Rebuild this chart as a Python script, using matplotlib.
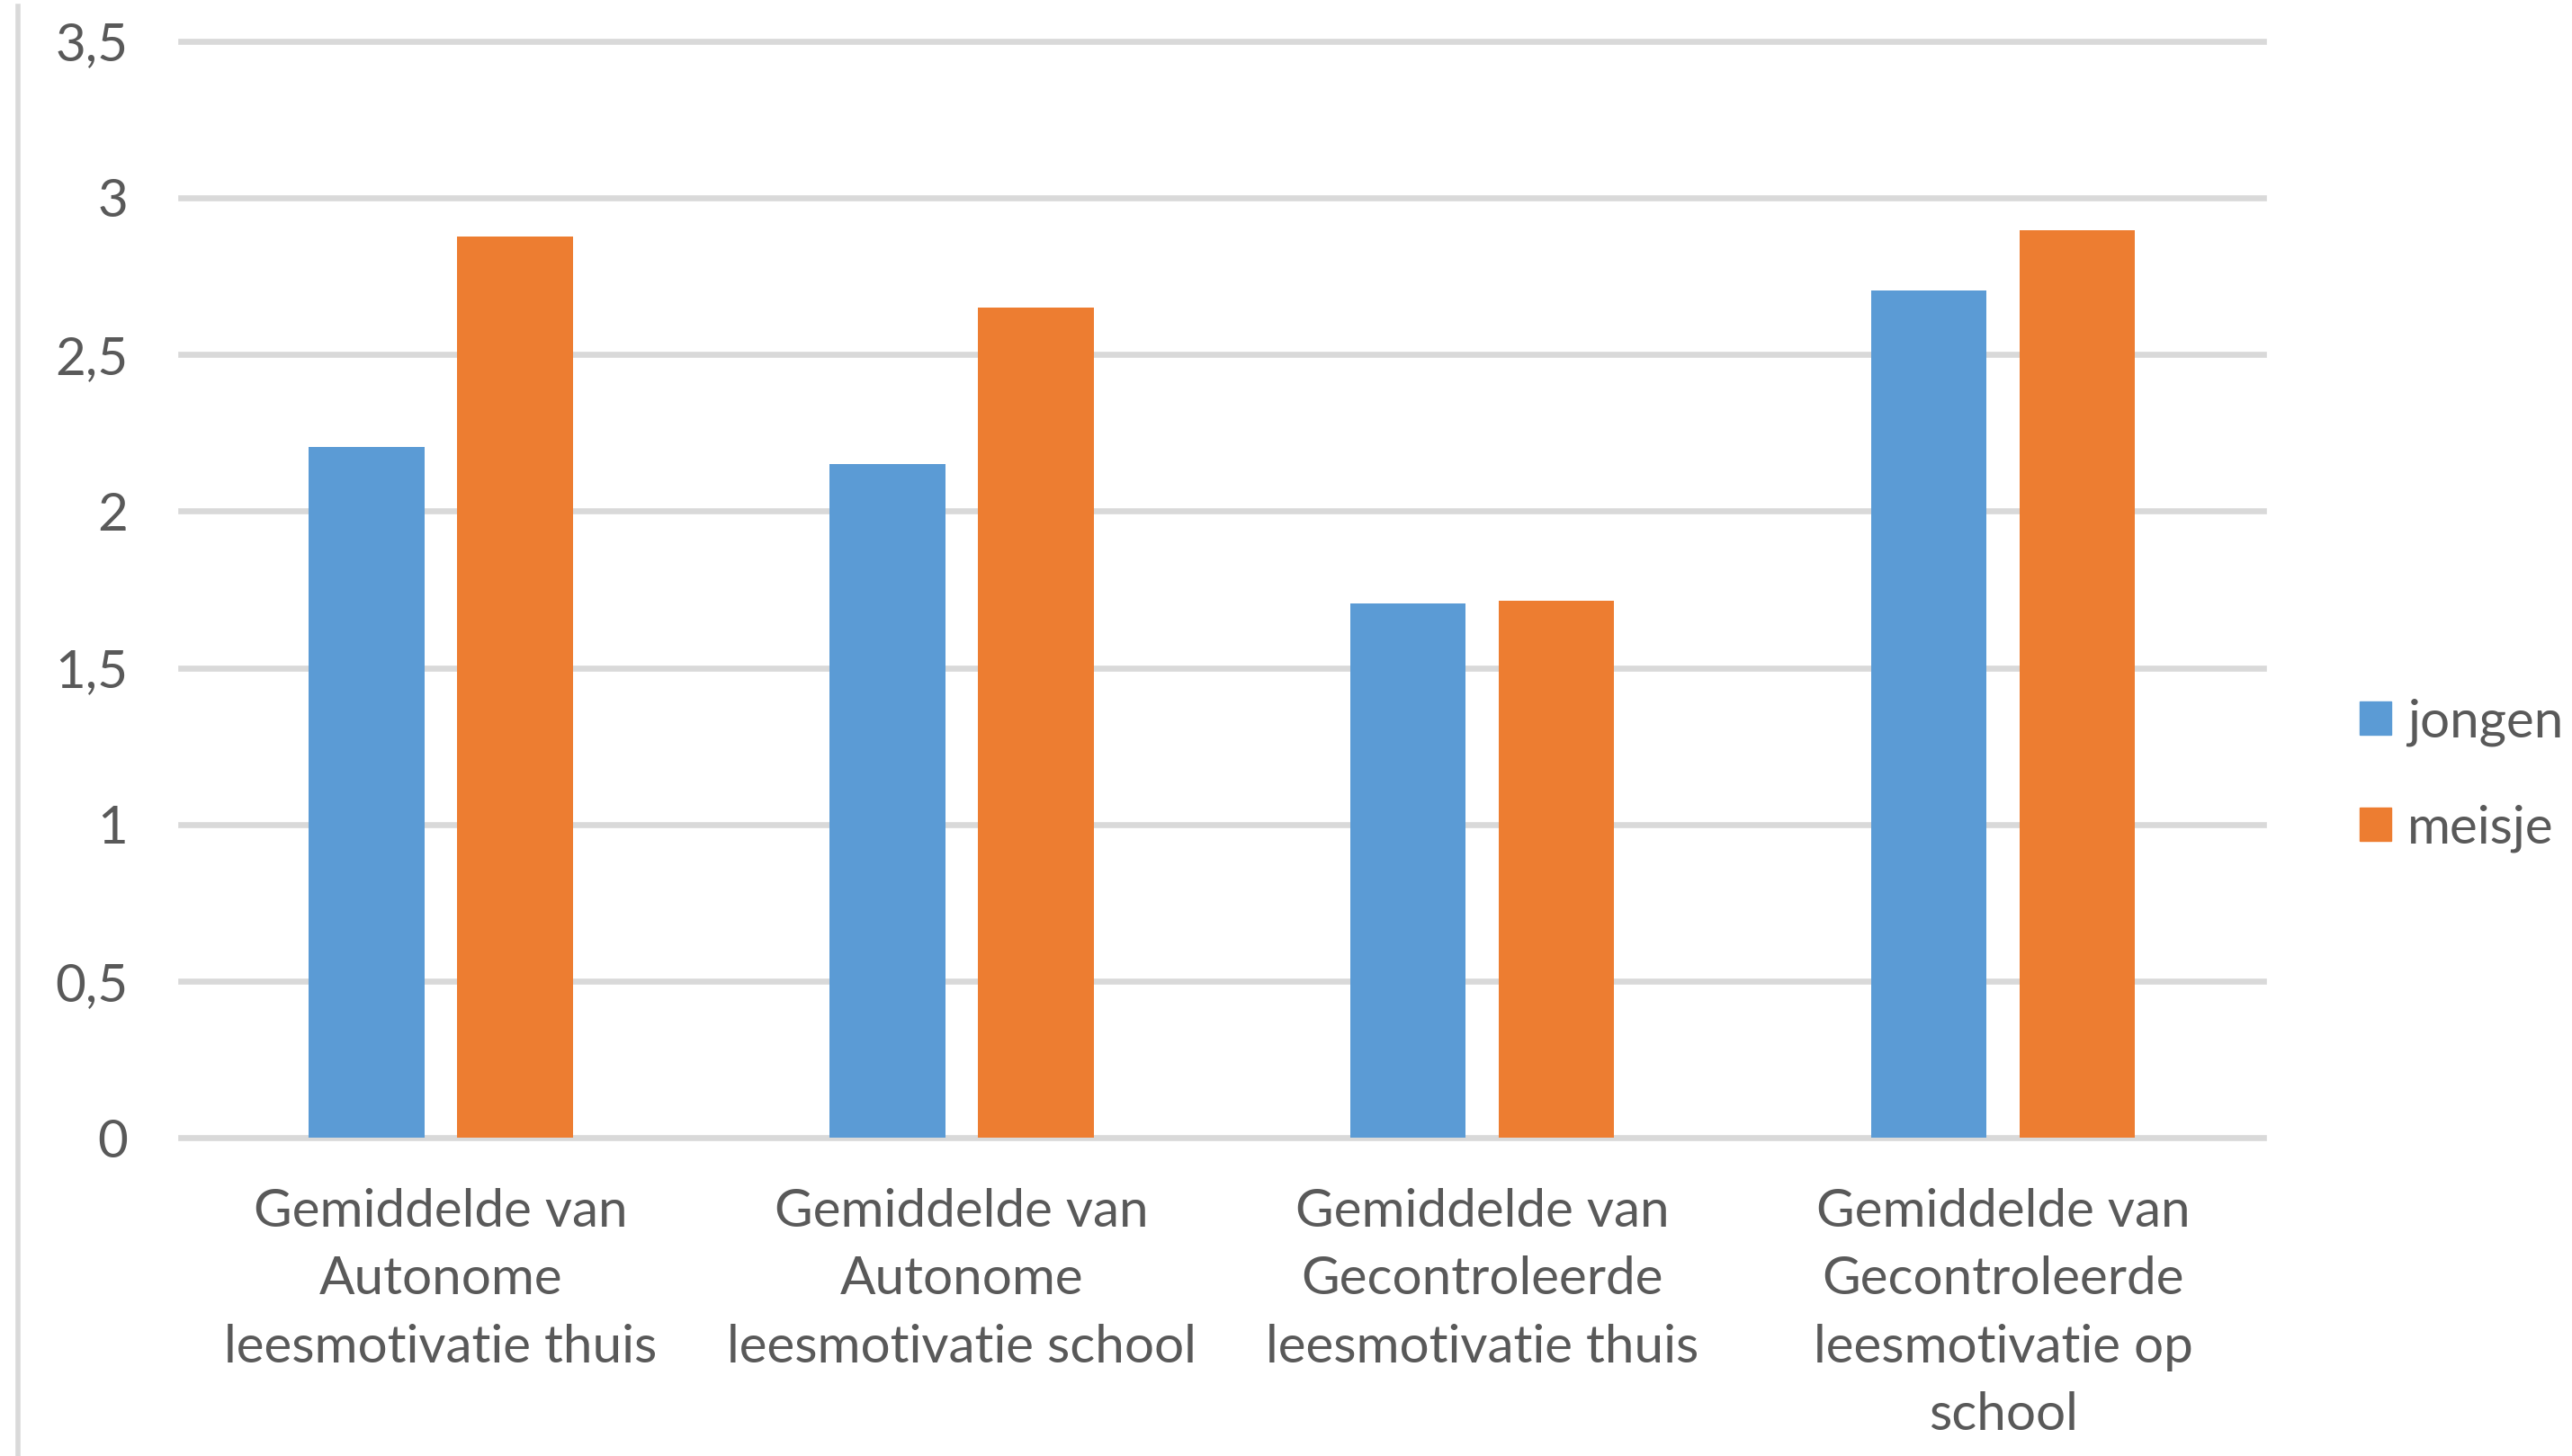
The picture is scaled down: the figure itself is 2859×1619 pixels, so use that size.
import matplotlib
matplotlib.use("Agg")
import matplotlib.pyplot as plt
from matplotlib.patches import Patch
from matplotlib.lines import Line2D
import numpy as np

categories = [
    "Gemiddelde van\nAutonome\nleesmotivatie thuis",
    "Gemiddelde van\nAutonome\nleesmotivatie school",
    "Gemiddelde van\nGecontroleerde\nleesmotivatie thuis",
    "Gemiddelde van\nGecontroleerde\nleesmotivatie op\nschool",
]
jongen = [2.205, 2.15, 1.705, 2.705]
meisje = [2.875, 2.65, 1.715, 2.895]
series_names = ["jongen", "meisje"]
yticks = [0, 0.5, 1, 1.5, 2, 2.5, 3, 3.5]
ytick_labels = ["0", "0,5", "1", "1,5", "2", "2,5", "3", "3,5"]

blue = "#5b9bd5"
orange = "#ed7d31"
grid_c = "#d9d9d9"
text_c = "#595959"

plt.rcParams['font.family'] = ['Liberation Sans Narrow', 'Lato', 'DejaVu Sans']

W, H = 2859, 1619
fig = plt.figure(figsize=(W/100, H/100), dpi=100)
ax = fig.add_axes([200.6/W, 1 - 1265.4/H, (2516-200.6)/W, (1265.4-45.6)/H])

x = np.arange(len(categories))
bw = 0.222
off = 0.1425
ax.bar(x - off, jongen, bw, color=blue, zorder=3, label=series_names[0])
ax.bar(x + off, meisje, bw, color=orange, zorder=3, label=series_names[1])

ax.set_xlim(-0.5, len(categories) - 0.5)
ax.set_ylim(0, 3.5)
ax.set_yticks(yticks)
ax.set_yticklabels(ytick_labels)
for y in yticks:
    ax.axhline(y, color=grid_c, lw=4.8, zorder=1, clip_on=False)
for s in ax.spines.values():
    s.set_visible(False)
ax.tick_params(axis='both', length=0, labelsize=42, colors=text_c)
ax.tick_params(axis='y', pad=42)
ax.tick_params(axis='x', pad=40)
ax.set_xticks(x)
ax.set_xticklabels(categories, linespacing=1.52)

# left border line of the picture
fig.add_artist(Line2D([20/W, 20/W], [0, 1 - 7/H], color=grid_c, lw=4, transform=fig.transFigure))

handles = [Patch(color=blue, label="jongen"), Patch(color=orange, label="meisje")]
leg = fig.legend(handles=handles, loc='center left', bbox_to_anchor=(2600/W, 1 - 862/H),
                 frameon=False, fontsize=42, handlelength=0.6, handleheight=0.6,
                 handletextpad=0.3, labelspacing=1.1, borderaxespad=0)
for t in leg.get_texts():
    t.set_color(text_c)

fig.savefig("out.png", dpi=100, facecolor="white")
